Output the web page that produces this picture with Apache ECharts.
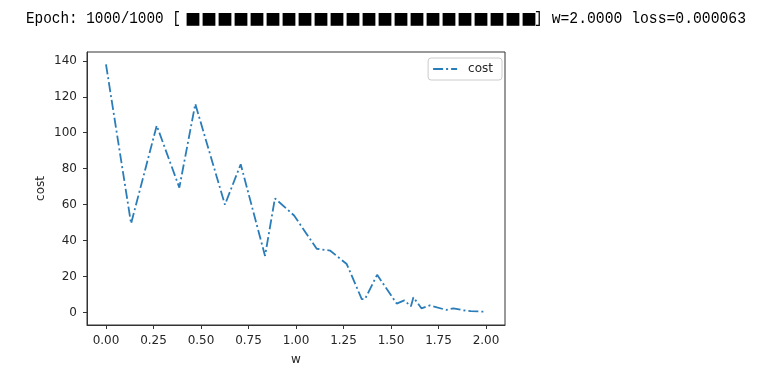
<!DOCTYPE html>
<html>
<head>
<meta charset="utf-8">
<script src="https://cdn.jsdelivr.net/npm/echarts@6/dist/echarts.min.js"></script>
<style>html,body{margin:0;padding:0;background:#fff;}#c{width:760px;height:375px;}</style>
</head>
<body>
<div id="c"></div>
<script>
// Data
const wValues = [0, 0.132, 0.267, 0.386, 0.47, 0.626, 0.709, 0.837, 0.889, 0.99, 1.109, 1.179, 1.267, 1.346, 1.363, 1.427, 1.53, 1.57, 1.605, 1.618, 1.66, 1.705, 1.79, 1.828, 1.88, 1.92, 2.0];
const costValues = [138, 49.5, 104, 69.5, 116, 60, 82.5, 31.5, 63.5, 54, 35.5, 34.5, 27, 7.5, 7.5, 21, 5, 6.8, 3.5, 8.5, 2.4, 4, 1.5, 2.4, 1.3, 0.8, 0.5];
const xTicks = [0, 0.25, 0.5, 0.75, 1.0, 1.25, 1.5, 1.75, 2.0];
const xTickLabels = ['0.00', '0.25', '0.50', '0.75', '1.00', '1.25', '1.50', '1.75', '2.00'];
const yTicks = [0, 20, 40, 60, 80, 100, 120, 140];
const yTickLabels = ['0', '20', '40', '60', '80', '100', '120', '140'];
const headerPrefix = 'Epoch: 1000/1000 [';
const headerBar = '■■■■■■■■■■■■■■■■■■■■■■';
const headerSuffix = '] w=2.0000 loss=0.000063';

const chart = echarts.init(document.getElementById('c'), null, {renderer: 'canvas'});
const pts = wValues.map((w, i) => [w, costValues[i]]);
const axisColor = '#333';
const labelColor = '#262626';
const tickFont = 'DejaVu Sans';
const lineColor = '#2a7db8';

chart.setOption({
  animation: false,
  backgroundColor: '#fff',
  graphic: [
    {type: 'text', x: 26, y: 19, scaleX: 0.896, style: {text: headerPrefix, font: '16px "Liberation Mono"', fill: '#000', verticalAlign: 'middle'}},
    {type: 'text', x: 185, y: 19, style: {text: headerBar, font: '16px "Noto Sans CJK SC"', fill: '#000', verticalAlign: 'middle'}},
    {type: 'text', x: 534, y: 19, scaleX: 0.92, style: {text: headerSuffix, font: '16px "Liberation Mono"', fill: '#000', verticalAlign: 'middle'}}
  ],
  grid: {left: 87, right: 255, top: 52, bottom: 50, show: true, borderColor: axisColor, borderWidth: 1, backgroundColor: 'transparent'},
  legend: {
    right: 258, top: 58, orient: 'horizontal',
    backgroundColor: '#fff', borderColor: '#cccccc', borderWidth: 1, borderRadius: 3,
    padding: [5, 9, 5, 5], itemWidth: 24, itemHeight: 2, itemGap: 8,
    icon: 'path://M0,0h10v2h-10z M13,0h2v2h-2z M18,0h6v2h-6z',
    itemStyle: {color: lineColor},
    textStyle: {fontFamily: tickFont, fontSize: 12, color: labelColor, padding: [0, 0, 0, 6]},
    data: [{name: 'cost'}]
  },
  xAxis: {
    type: 'value', min: -0.1, max: 2.1,
    name: 'w', nameLocation: 'middle', nameGap: 29,
    nameTextStyle: {fontFamily: tickFont, fontSize: 12, color: labelColor},
    axisLine: {show: true, onZero: false, lineStyle: {color: axisColor}},
    axisTick: {show: true, length: 4, customValues: xTicks, lineStyle: {color: axisColor}},
    axisLabel: {customValues: xTicks, margin: 10, fontFamily: tickFont, fontSize: 12, color: labelColor,
      formatter: v => { const i = xTicks.findIndex(t => Math.abs(t - v) < 1e-9); return i >= 0 ? xTickLabels[i] : ''; }},
    splitLine: {show: false}
  },
  yAxis: {
    type: 'value', min: -6.9, max: 144.9,
    name: 'cost', nameLocation: 'middle', nameGap: 40, nameRotate: 90, nameMoveOverlap: false,
    nameTextStyle: {fontFamily: tickFont, fontSize: 12, color: labelColor},
    axisLine: {show: true, onZero: false, lineStyle: {color: axisColor}},
    axisTick: {show: true, length: 4, customValues: yTicks, lineStyle: {color: axisColor}},
    axisLabel: {customValues: yTicks, margin: 10, fontFamily: tickFont, fontSize: 12, color: labelColor,
      formatter: v => { const i = yTicks.findIndex(t => Math.abs(t - v) < 1e-9); return i >= 0 ? yTickLabels[i] : ''; }},
    splitLine: {show: false}
  },
  series: [{
    name: 'cost', type: 'line', data: pts,
    showSymbol: false, symbol: 'none',
    lineStyle: {color: lineColor, width: 1.8, type: [10, 3, 2, 3]},
    itemStyle: {color: lineColor}
  }]
});
</script>
</body>
</html>
